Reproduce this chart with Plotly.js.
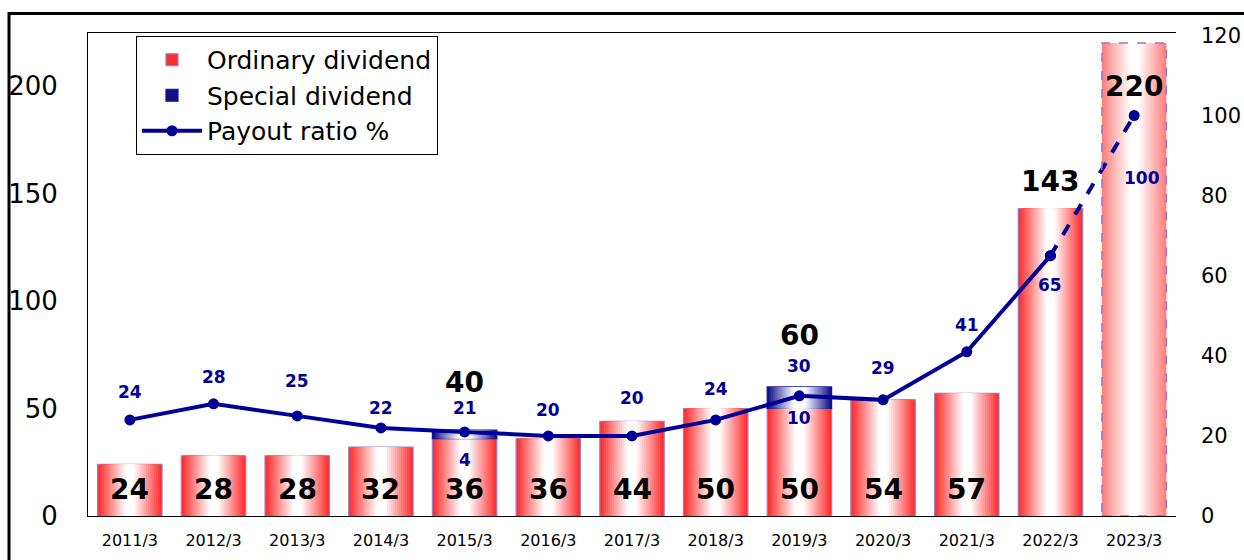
<!DOCTYPE html>
<html>
<head>
<meta charset="utf-8">
<script src="https://cdn.plot.ly/plotly-3.0.1.min.js"></script>
<style>
html,body{margin:0;padding:0;background:#fff;}
#chart{width:1244px;height:560px;}
</style>
</head>
<body>
<div id="chart"></div>
<script>
// ---- data ----
const categories = ['2011/3','2012/3','2013/3','2014/3','2015/3','2016/3','2017/3','2018/3','2019/3','2020/3','2021/3','2022/3','2023/3'];
const ordinaryDividend = [24, 28, 28, 32, 36, 36, 44, 50, 50, 54, 57, 143, 220];
const specialDividend  = [0, 0, 0, 0, 4, 0, 0, 0, 10, 0, 0, 0, 0];
const payoutRatio      = [24, 28, 25, 22, 21, 20, 20, 24, 30, 29, 41, 65, 100];
const forecastIndex = 12; // 2023/3 is a forecast

// ---- styles ----
const BAR_W = 0.77;
const LAYERS = 16;
const FONT = 'DejaVu Sans, Verdana, sans-serif';
const NAVY = 'rgb(0,0,150)';
const OUTLINE = 'rgb(150,130,205)';
// label offsets (px)
const lineLabelShift = [27.5, 26.5, 34.5, 19.5, 23.5, 25.5, 37.5, 30.5, 29.5, 31.5, 26.5, -29.5, -62.5];
const lineLabelXShift = [0,0,0,0,0,0,0,0,0,0,0,0,8];
const totalShift = {4: 47, 8: 51, 11: 27, 12: -44};
const specialShift = {4: -21, 8: -10};

function mix(a, b, t) {
  return 'rgb(' + a.map((v, k) => Math.round(v + (b[k] - v) * t)).join(',') + ')';
}
const WHITE = [255,255,255];
const RED = [255,45,45];
const PINK = [255,128,128];
const BLUE = [18,18,135];

const traces = [];
const specY = specialDividend.map(v => v > 0 ? v : null);

for (let i = 0; i < LAYERS; i++) {
  const f = i / LAYERS;
  const w = BAR_W * (1 - f);
  const t = Math.min(1, f / 0.85);
  const first = i === 0;
  traces.push({
    type: 'bar', x: categories, y: ordinaryDividend,
    width: w,
    name: 'Ordinary dividend',
    showlegend: first,
    legendgroup: 'ord',
    hoverinfo: 'skip',
    marker: {
      color: ordinaryDividend.map((v, j) => mix(j === forecastIndex ? PINK : RED, WHITE, t)),
      line: first ? {color: OUTLINE, width: ordinaryDividend.map((v, j) => j === forecastIndex ? 0 : 1.2)} : {width: 0}
    }
  });
}
for (let i = 0; i < LAYERS; i++) {
  const f = i / LAYERS;
  const w = BAR_W * (1 - f);
  const t = Math.min(1, f / 0.8);
  const first = i === 0;
  traces.push({
    type: 'bar', x: categories, y: specY, base: ordinaryDividend,
    width: w,
    name: 'Special dividend',
    showlegend: first,
    legendgroup: 'spec',
    hoverinfo: 'skip',
    marker: {
      color: mix(BLUE, WHITE, t),
      line: first ? {color: 'rgb(20,20,150)', width: 1.2} : {width: 0}
    }
  });
}

traces.push({
  type: 'scatter', mode: 'lines+markers',
  x: categories.slice(0, forecastIndex), y: payoutRatio.slice(0, forecastIndex),
  yaxis: 'y2', name: 'Payout ratio %',
  line: {color: NAVY, width: 4},
  marker: {color: NAVY, size: 11},
  hoverinfo: 'skip'
});
traces.push({
  type: 'scatter', mode: 'lines+markers',
  x: categories.slice(forecastIndex - 1), y: payoutRatio.slice(forecastIndex - 1),
  yaxis: 'y2', showlegend: false,
  line: {color: NAVY, width: 4, dash: 'dash'},
  marker: {color: NAVY, size: 11},
  hoverinfo: 'skip'
});

const annotations = [];
categories.forEach((c, i) => {
  if (ordinaryDividend[i] < 100) {
    annotations.push({x: c, y: 0, xref: 'x', yref: 'y', yshift: 27, showarrow: false,
      text: '<b>' + ordinaryDividend[i] + '</b>', font: {family: FONT, size: 28, color: '#000'}});
  }
  if (totalShift[i] !== undefined) {
    const tot = ordinaryDividend[i] + specialDividend[i];
    annotations.push({x: c, y: tot, xref: 'x', yref: 'y', yshift: totalShift[i], showarrow: false,
      text: '<b>' + tot + '</b>', font: {family: FONT, size: 28, color: '#000'}});
  }
  if (specialDividend[i] > 0) {
    annotations.push({x: c, y: ordinaryDividend[i], xref: 'x', yref: 'y', yshift: specialShift[i], showarrow: false,
      text: '<b>' + specialDividend[i] + '</b>', font: {family: FONT, size: 17, color: NAVY}});
  }
  annotations.push({x: c, y: payoutRatio[i], xref: 'x', yref: 'y2', yshift: lineLabelShift[i], xshift: lineLabelXShift[i],
    showarrow: false, text: '<b>' + payoutRatio[i] + '</b>', font: {family: FONT, size: 17, color: NAVY}});
});

const fi = forecastIndex;
const shapes = [
  {type: 'rect', xref: 'x', yref: 'y', x0: fi - BAR_W / 2, x1: fi + BAR_W / 2, y0: 0, y1: ordinaryDividend[fi],
   line: {color: 'rgb(150,120,200)', width: 1.5, dash: 'dash'}, layer: 'above'},
  {type: 'rect', xref: 'paper', yref: 'paper', x0: -0.0726, x1: 1.3, y0: -0.3, y1: 1.0404,
   line: {color: '#000', width: 3}, layer: 'above'}
];

const layout = {
  width: 1244, height: 560,
  margin: {l: 88, r: 68, t: 33, b: 44, pad: 0},
  paper_bgcolor: '#fff', plot_bgcolor: '#fff',
  barmode: 'overlay',
  font: {family: FONT, color: '#000'},
  showlegend: true,
  legend: {
    x: 0.0441, y: 0.9938, xanchor: 'left', yanchor: 'top',
    bgcolor: '#fff', bordercolor: '#000', borderwidth: 1,
    font: {family: FONT, size: 25, color: '#000'},
    traceorder: 'normal', tracegroupgap: 0, itemwidth: 60
  },
  xaxis: {
    type: 'category', range: [-0.5, categories.length - 0.5], autorange: false,
    showgrid: false, zeroline: false,
    showline: true, mirror: true, linecolor: '#000', linewidth: 1,
    ticks: '', tickfont: {family: FONT, size: 16, color: '#000'},
    ticklabelstandoff: 10, fixedrange: true
  },
  yaxis: {
    range: [0, 224.6], tickvals: [0, 50, 100, 150, 200], showgrid: false, zeroline: false,
    showline: true, linecolor: '#000', linewidth: 1, ticks: '',
    tickfont: {family: FONT, size: 26, color: '#000'}, ticklabelstandoff: 24
  },
  yaxis2: {
    overlaying: 'y', side: 'right', range: [0, 120.6], tickvals: [0, 20, 40, 60, 80, 100, 120],
    showgrid: false, zeroline: false, showline: false, ticks: '',
    tickfont: {family: FONT, size: 21, color: '#000'}, ticklabelstandoff: 24
  },
  annotations: annotations,
  shapes: shapes
};

Plotly.newPlot('chart', traces, layout, {staticPlot: true, displayModeBar: false});
</script>
</body>
</html>
